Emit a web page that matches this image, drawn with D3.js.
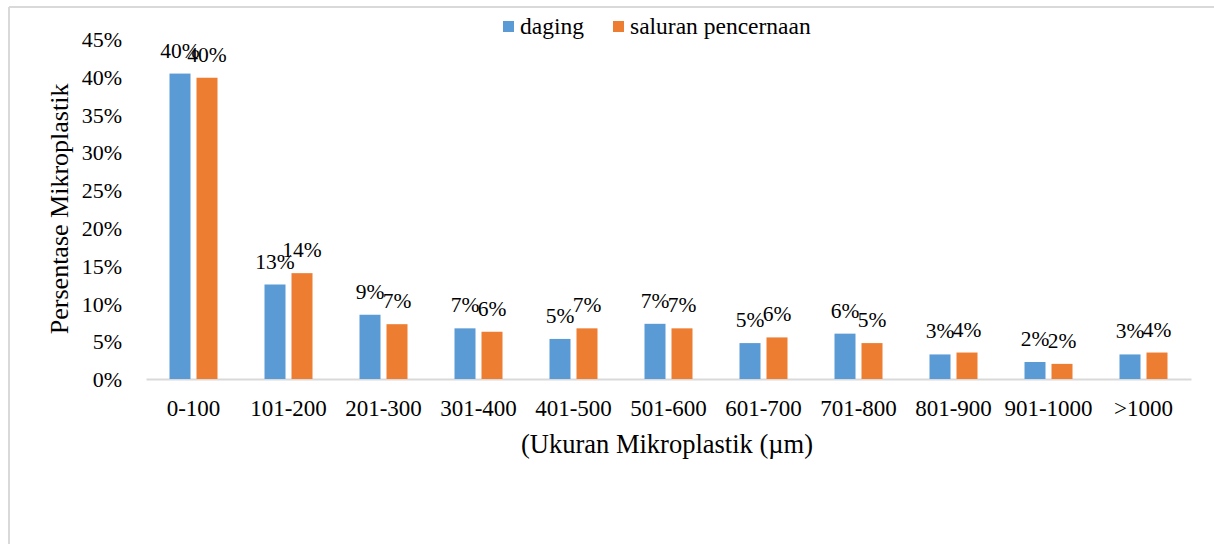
<!DOCTYPE html>
<html lang="en">
    <head>
        <meta charset="utf-8">
        <title>Ukuran Mikroplastik</title>
        <script type="text/javascript" src="https://cdn.jsdelivr.net/npm/d3@7"></script>
        <style type="text/css">
body {
    margin: 0;
    background-color: #ffffff;
}
text {
    font-family: "Liberation Serif", "Times New Roman", serif;
    fill: #000000;
}
        </style>
    </head>
    <body>
        <script type="text/javascript">
var width=1214;     // window size
var height=544;

// data
var categories=["0-100","101-200","201-300","301-400","401-500","501-600","601-700","701-800","801-900","901-1000",">1000"];
var daging=[40.4,12.5,8.5,6.7,5.3,7.3,4.75,6.0,3.25,2.25,3.25];
var saluran=[39.85,14.0,7.25,6.25,6.7,6.7,5.5,4.75,3.5,2.0,3.5];
var seriesNames=["daging","saluran pencernaan"];
var yTicks=[0,5,10,15,20,25,30,35,40,45];

var colors=["#5B9BD5","#ED7D31"];

var plotLeft=146, plotRight=1191, plotTop=38.8, plotBottom=379;

var svg = d3.select("body").append("svg")
    .attr("width",width).attr("height",height);

// outer frame (only top and left edges are visible)
svg.append("line").attr("x1",9).attr("x2",width).attr("y1",7).attr("y2",7)
    .attr("stroke","#d9d9d9").attr("stroke-width",2);
svg.append("line").attr("x1",9).attr("x2",9).attr("y1",7).attr("y2",height)
    .attr("stroke","#d9d9d9").attr("stroke-width",2);

var x = d3.scaleBand().domain(categories).range([plotLeft,plotRight]);
var y = d3.scaleLinear().domain([0,45]).range([plotBottom,plotTop]);

// y axis labels (no line, no ticks)
var yAxis = d3.axisLeft(y).tickValues(yTicks).tickFormat(function(d){ return d+"%"; }).tickSize(0).tickPadding(0);
var ya = svg.append("g").attr("transform","translate(122,0)").call(yAxis);
ya.select(".domain").remove();
ya.selectAll("text").style("font-family","Liberation Serif").style("font-size","22px").attr("dy","0.35em");

// x axis
var xAxis = d3.axisBottom(x).tickSize(0).tickPadding(0);
var xa = svg.append("g").attr("transform","translate(0,"+plotBottom+")").call(xAxis);
xa.select(".domain").attr("stroke","#d9d9d9").attr("stroke-width",2);
xa.selectAll("text").style("font-family","Liberation Serif").style("font-size","23px").attr("y",29).attr("dy","0.35em");

var barW=21, gap=6;
var rows = categories.map(function(c,i){ return {cat:c, vals:[daging[i],saluran[i]]}; });

var groups = svg.selectAll(".grp").data(rows).enter().append("g")
    .attr("transform",function(d){ return "translate("+(x(d.cat)+x.bandwidth()/2)+",0)"; });

[0,1].forEach(function(s){
    var bx = s==0 ? -gap/2-barW : gap/2;
    groups.append("rect")
        .attr("x",bx).attr("width",barW)
        .attr("y",function(d){ return y(d.vals[s]); })
        .attr("height",function(d){ return plotBottom-y(d.vals[s]); })
        .attr("fill",colors[s]);
    groups.append("text")
        .attr("x",bx+barW/2)
        .attr("y",function(d){ return y(d.vals[s])-16; })
        .attr("text-anchor","middle")
        .style("font-size","21.5px")
        .text(function(d){ return Math.round(d.vals[s])+"%"; });
});

// axis titles
svg.append("text").attr("transform","translate(68,"+((plotTop+plotBottom)/2)+") rotate(-90)")
    .attr("text-anchor","middle").style("font-size","26px").text("Persentase Mikroplastik");
svg.append("text").attr("x",667).attr("y",453)
    .attr("text-anchor","middle").style("font-size","26.5px").text("(Ukuran Mikroplastik (µm)");

// legend
var legendX=[503,613];
seriesNames.forEach(function(n,i){
    svg.append("rect").attr("x",legendX[i]).attr("y",21).attr("width",11).attr("height",11).attr("fill",colors[i]);
    svg.append("text").attr("x",legendX[i]+17).attr("y",34).style("font-size","23.5px").text(n);
});
        </script>
    </body>
</html>
